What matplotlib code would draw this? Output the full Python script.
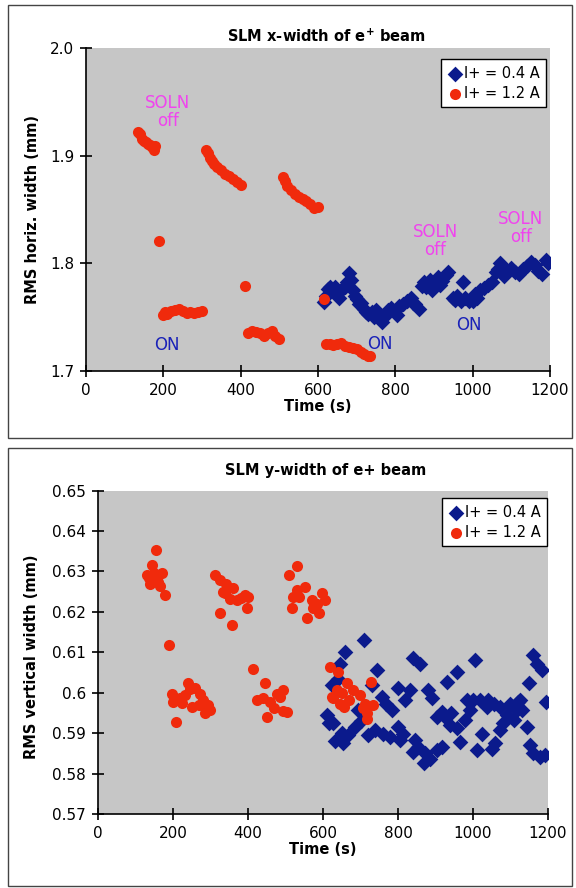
import matplotlib
matplotlib.use("Agg")
import matplotlib.pyplot as plt
from matplotlib.patches import Rectangle

# ---- top panel: SLM x-width (mm) vs time (s)
top_blue_x = [615, 620, 625, 630, 640, 645, 650, 655, 660, 670, 675, 680, 685, 690, 695,
              700, 705, 710, 720, 725, 730, 740, 745, 750, 760, 765, 770, 780, 790, 800,
              805, 810, 820, 830, 840, 845, 850, 860, 870, 875, 880, 890, 895, 900, 910,
              915, 920, 930, 935, 950, 955, 960, 970, 975, 980, 990, 1000, 1005, 1010,
              1020, 1030, 1040, 1050, 1060, 1065, 1070, 1080, 1090, 1100, 1110, 1120,
              1130, 1140, 1150, 1160, 1170, 1180, 1190, 1195]
top_blue_y = [1.764, 1.770, 1.776, 1.778, 1.775, 1.778, 1.772, 1.768, 1.775, 1.778, 1.783,
              1.791, 1.785, 1.775, 1.770, 1.767, 1.762, 1.763, 1.758, 1.755, 1.753, 1.755,
              1.750, 1.757, 1.752, 1.746, 1.750, 1.757, 1.759, 1.756, 1.752, 1.760, 1.762,
              1.765, 1.768, 1.763, 1.762, 1.758, 1.779, 1.783, 1.778, 1.785, 1.775, 1.782,
              1.787, 1.780, 1.784, 1.789, 1.792, 1.768, 1.766, 1.770, 1.765, 1.783, 1.768,
              1.765, 1.765, 1.772, 1.768, 1.775, 1.777, 1.780, 1.783, 1.792, 1.795, 1.800,
              1.788, 1.793, 1.796, 1.792, 1.790, 1.795, 1.798, 1.801, 1.799, 1.793, 1.790,
              1.803, 1.800]

top_red_x = [135, 140, 145, 150, 155, 160, 165, 170, 175, 178,
             190,
             200, 205, 210, 220, 230, 240, 250, 260, 270, 280, 290, 300,
             310, 315, 320, 325, 330, 340, 350, 360, 370, 380, 390, 400,
             412,
             420, 430, 440, 450, 460, 470, 480, 490, 500,
             510, 515, 520, 530, 540, 550, 560, 570, 580, 590, 600,
             615,
             620, 630, 640, 650, 660, 670, 680, 690, 700, 710, 720, 730, 735]
top_red_y = [1.922, 1.920, 1.916, 1.914, 1.913, 1.911, 1.910, 1.908, 1.906, 1.909,
             1.821,
             1.752, 1.755, 1.753, 1.756, 1.757, 1.758, 1.756, 1.754, 1.755, 1.754, 1.755, 1.756,
             1.906, 1.903, 1.898, 1.895, 1.893, 1.890, 1.887, 1.883, 1.881, 1.879, 1.876, 1.873,
             1.779,
             1.735, 1.737, 1.736, 1.735, 1.733, 1.735, 1.737, 1.733, 1.730,
             1.880, 1.877, 1.872, 1.868, 1.865, 1.862, 1.860, 1.858, 1.855, 1.852, 1.853,
             1.767,
             1.725, 1.725, 1.724, 1.725, 1.726, 1.723, 1.722, 1.721, 1.720, 1.718, 1.716,
             1.714, 1.714]

# ---- bottom panel: SLM y-width (mm) vs time (s)
bot_blue_x = [610, 623, 627, 639, 645, 654, 659, 667, 685, 694, 709, 730, 739, 743, 756,
              761, 769, 779, 783, 801, 801, 805, 814, 819, 832, 841, 841, 845, 854, 859,
              868, 872, 881, 885, 890, 903, 903, 916, 916, 925, 930, 939, 942, 956, 956,
              965, 979, 983, 992, 1001, 1005, 1010, 1019, 1023, 1037, 1041, 1050, 1055,
              1059, 1072, 1072, 1081, 1090, 1099, 1108, 1117, 1121, 1126, 1130, 1143,
              1148, 1152, 1161, 1161, 1170, 1179, 1183, 1192, 1194, 615, 632, 650, 700, 720]
bot_blue_y = [0.5945, 0.6019, 0.5924, 0.6035, 0.6072, 0.5875, 0.6101, 0.5895, 0.5916,
              0.5957, 0.6130, 0.6019, 0.5907, 0.6056, 0.5990, 0.5899, 0.5973, 0.5891,
              0.5957, 0.5916, 0.6011, 0.5883, 0.5899, 0.5982, 0.6006, 0.6085, 0.5854,
              0.5883, 0.5866, 0.6072, 0.5825, 0.5850, 0.6006, 0.5837, 0.5986, 0.5940,
              0.5858, 0.5953, 0.5866, 0.5940, 0.6027, 0.5920, 0.5949, 0.6052, 0.5912,
              0.5878, 0.5932, 0.5982, 0.5957, 0.5982, 0.6081, 0.5858, 0.5982, 0.5899,
              0.5965, 0.5982, 0.5862, 0.5973, 0.5875, 0.5965, 0.5907, 0.5924, 0.5945,
              0.5973, 0.5932, 0.5957, 0.5978, 0.5982, 0.5957, 0.5916, 0.6023, 0.5870,
              0.5850, 0.6093, 0.6072, 0.5841, 0.6056, 0.5846, 0.5978, 0.5925, 0.5880,
              0.5900, 0.5930, 0.5895]

bot_red_x = [130, 135, 139, 143, 148, 152, 155, 161, 164, 170, 179,
             190,
             196, 199, 208, 219, 225, 232, 241, 245, 250, 259, 268, 272, 281, 285, 294, 298,
             312, 325, 332, 340, 339, 352, 361, 370, 380, 392, 401, 396, 325, 356,
             412, 423, 439, 444, 450, 459, 468, 476, 485, 494, 494, 503,
             510, 516, 521, 530, 530, 537, 552, 556, 570, 574, 583, 590, 596, 605,
             619, 625, 627, 636, 641, 645, 650, 655, 663, 670, 681, 699, 707, 712, 716,
             716, 728, 734]
bot_red_y = [0.6291, 0.6285, 0.6270, 0.6316, 0.6295, 0.6280, 0.6353, 0.6275, 0.6263,
             0.6295, 0.6242,
             0.6118,
             0.5998, 0.5977, 0.5928, 0.5986, 0.5975, 0.5994, 0.6023, 0.6010, 0.5965,
             0.6011, 0.5969, 0.5998, 0.5982, 0.5949, 0.5969, 0.5958,
             0.6291, 0.6279, 0.6250, 0.6270, 0.6246, 0.6233, 0.6258, 0.6229, 0.6235,
             0.6242, 0.6238, 0.6209, 0.6196, 0.6167,
             0.6058, 0.5982, 0.5986, 0.6025, 0.5940, 0.5977, 0.5961, 0.5998, 0.5990,
             0.6006, 0.5956, 0.5953,
             0.6291, 0.6209, 0.6237, 0.6313, 0.6254, 0.6237, 0.6262, 0.6184, 0.6229,
             0.6209, 0.6220, 0.6196, 0.6246, 0.6229,
             0.6064, 0.5990, 0.5986, 0.6006, 0.6052, 0.5973, 0.6000, 0.5965, 0.6023,
             0.5982, 0.6006, 0.5994, 0.5962, 0.5973, 0.5949, 0.5936, 0.6027, 0.5969]

x_ticks = [0, 200, 400, 600, 800, 1000, 1200]
top_y_ticks = [1.7, 1.8, 1.9, 2.0]
top_y_labels = ["1.7", "1.8", "1.9", "2.0"]
bot_y_ticks = [0.57, 0.58, 0.59, 0.60, 0.61, 0.62, 0.63, 0.64, 0.65]
bot_y_labels = ["0.57", "0.58", "0.59", "0.6", "0.61", "0.62", "0.63", "0.64", "0.65"]

labels = ["I+ = 0.4 A", "I+ = 1.2 A"]

BLUE = "#0b1a8c"
RED = "#f02a0c"
MAGENTA = "#f044ee"
TEXT_BLUE = "#1a22b8"
FACE = "#c6c6c6"
MS = 64

W, H = 576, 888
fig = plt.figure(figsize=(W / 100, H / 100), dpi=100)
fig.patch.set_facecolor("white")

# outer frames around each chart
for (x0, y0, x1, y1) in [(8, 5, 572, 438), (8, 448, 572, 886)]:
    fig.add_artist(Rectangle((x0 / W, 1 - y1 / H), (x1 - x0) / W, (y1 - y0) / H,
                             transform=fig.transFigure, fill=False,
                             edgecolor="#444444", linewidth=1.0))


def style_axes(ax, yticks, ylabels, ylim, ylabel, legend_anchor):
    ax.set_facecolor(FACE)
    ax.set_xlim(0, 1200)
    ax.set_ylim(*ylim)
    ax.set_xticks(x_ticks)
    ax.set_xticklabels([str(t) for t in x_ticks])
    ax.set_yticks(yticks)
    ax.set_yticklabels(ylabels)
    for s in ("top", "right"):
        ax.spines[s].set_visible(False)
    for s in ("left", "bottom"):
        ax.spines[s].set_linewidth(1.2)
    ax.tick_params(direction="inout", length=9, width=1.2, labelsize=11, pad=4)
    ax.set_xlabel("Time (s)", fontsize=10.5, fontweight="bold", labelpad=1)
    ax.set_ylabel(ylabel, fontsize=10.5, fontweight="bold")
    leg = ax.legend(loc="upper right", bbox_to_anchor=legend_anchor, fontsize=10.5,
                    frameon=True, fancybox=False, borderpad=0.45, handletextpad=0.1,
                    handlelength=1.0, labelspacing=0.35, borderaxespad=0)
    leg.get_frame().set_edgecolor("black")
    leg.get_frame().set_linewidth(1.0)
    leg.get_frame().set_facecolor("white")
    leg.get_frame().set_alpha(1)


# ---- top chart
ax1 = fig.add_axes([86 / W, 1 - 371 / H, 464 / W, (371 - 48.5) / H])
ax1.scatter(top_blue_x, top_blue_y, marker="D", s=MS, color=BLUE, linewidths=0,
            label=labels[0], zorder=3)
ax1.scatter(top_red_x, top_red_y, marker="o", s=MS, color=RED, linewidths=0,
            label=labels[1], zorder=4)
style_axes(ax1, top_y_ticks, top_y_labels, (1.7, 2.0), "RMS horiz. width (mm)",
           (0.991, 0.967))
ax1.yaxis.set_label_coords(-0.100, 0.5)
fig.text(326 / W, 1 - 36 / H, "SLM x-width of e$^{\\mathbf{+}}$ beam", ha="center",
         va="center", fontsize=10.5, fontweight="bold")

for (tx, ty, s, c) in [(212, 1.941, "SOLN\noff", MAGENTA), (904, 1.821, "SOLN\noff", MAGENTA),
                       (1124, 1.833, "SOLN\noff", MAGENTA), (210, 1.724, "ON", TEXT_BLUE),
                       (760, 1.7254, "ON", TEXT_BLUE), (991, 1.7425, "ON", TEXT_BLUE)]:
    ax1.text(tx, ty, s, color=c, fontsize=12, ha="center", va="center",
             linespacing=0.95, zorder=5)

# ---- bottom chart
ax2 = fig.add_axes([98 / W, 1 - 814 / H, 450 / W, (814 - 490.6) / H])
ax2.scatter(bot_blue_x, bot_blue_y, marker="D", s=MS, color=BLUE, linewidths=0,
            label=labels[0], zorder=3)
ax2.scatter(bot_red_x, bot_red_y, marker="o", s=MS, color=RED, linewidths=0,
            label=labels[1], zorder=4)
style_axes(ax2, bot_y_ticks, bot_y_labels, (0.57, 0.65), "RMS vertical width (mm)",
           (0.998, 0.977))
ax2.yaxis.set_label_coords(-0.130, 0.485)
fig.text(326 / W, 1 - 470 / H, "SLM y-width of e+ beam", ha="center", va="center",
         fontsize=10.5, fontweight="bold")

fig.savefig("out.png", dpi=100, facecolor="white")
